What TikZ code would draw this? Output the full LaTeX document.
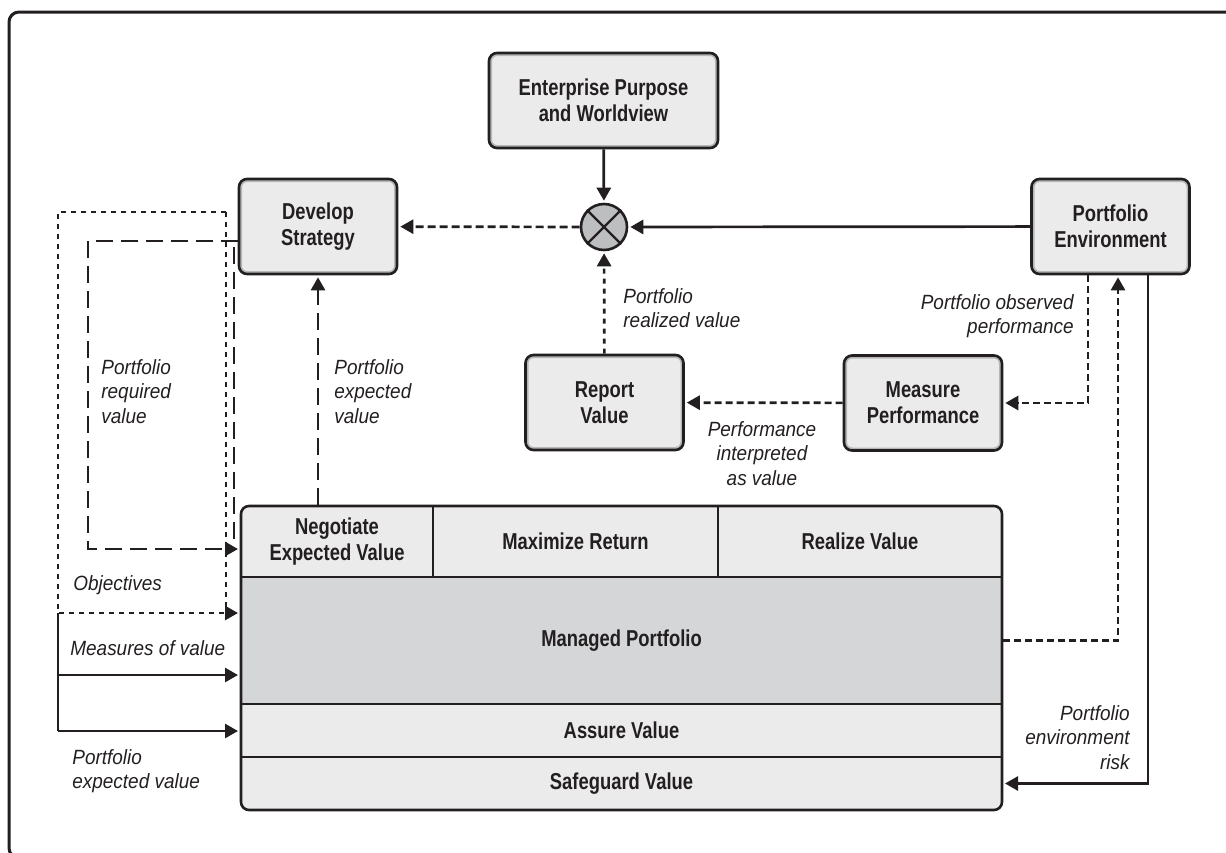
\documentclass[tikz,border=0pt]{standalone}
\usepackage{fontspec}
\setmainfont{Liberation Sans}
\newfontfamily\boxfamily[FakeStretch=0.8]{Liberation Sans}
\newfontfamily\notefamily[FakeStretch=0.92]{Liberation Sans}
\usetikzlibrary{arrows.meta}
\definecolor{inkblack}{HTML}{231F20}
\definecolor{boxfill}{HTML}{EBEBEC}
\definecolor{boxrim}{HTML}{B5B6B8}
\definecolor{coregray}{HTML}{D5D6D8}
\definecolor{joingray}{HTML}{BDBEC0}
\newcommand{\boxtext}{\boxfamily\bfseries\fontsize{11.5pt}{13pt}\selectfont}
\newcommand{\notetext}{\notefamily\itshape\fontsize{10.3pt}{12.2pt}\selectfont}
\tikzset{
  procbox/.style={rectangle, rounded corners=4pt, draw=inkblack, line width=1.3pt,
    fill=boxfill, minimum width=79pt, minimum height=47.5pt, inner sep=0pt,
    align=center, font=\boxtext, text=inkblack,
    path picture={\draw[boxrim, line width=3pt, rounded corners=4pt]
      (path picture bounding box.south west) rectangle (path picture bounding box.north east);}},
  joint/.style={circle, draw=inkblack, line width=1.3pt, fill=joingray, minimum size=23pt, inner sep=0pt},
  cell/.style={rectangle, draw=inkblack, line width=1pt, fill=boxfill, inner sep=0pt,
    align=center, font=\boxtext, text=inkblack},
  note/.style={inner sep=0pt, font=\notetext, text=inkblack},
  flow/.style={draw=inkblack, line width=1.35pt, -{Triangle[length=6.5pt,width=7pt]}, shorten >=1pt},
  wire/.style={draw=inkblack, line width=1.35pt},
  dotdash/.style={dash pattern=on 2.5pt off 2.5pt},
  shortdash/.style={dash pattern=on 3.5pt off 2pt},
  meddash/.style={dash pattern=on 4pt off 2pt},
  longdash/.style={dash pattern=on 8.5pt off 4pt}
}
\begin{document}
\begin{tikzpicture}[x=0.5pt,y=-0.5pt]
\useasboundingbox (0,0) rectangle (1226,852);
\clip (0,0) rectangle (1226,852);
\draw[inkblack, line width=1.5pt, rounded corners=5pt] (9,12) rectangle (1260,858);

\node[procbox, minimum width=114.5pt] (purpose) at (603.5,100.5) {Enterprise Purpose\\and Worldview};
\node[joint] (mix) at (604,227) {};
\draw[inkblack, line width=1.1pt] (mix.45) -- (mix.225) (mix.135) -- (mix.315);
\node[procbox] (strategy) at (318,226.5) {Develop\\Strategy};
\node[procbox] (environ) at (1110.5,226.5) {Portfolio\\Environment};
\node[procbox] (measure) at (923,403) {Measure\\Performance};
\node[procbox] (report) at (604.5,402.5) {Report\\Value};

% managed portfolio block
\begin{scope}
\clip[rounded corners=4pt] (241,506) rectangle (1002,810);
\node[cell, minimum width=96pt, minimum height=35.5pt] (negotiate) at (337,541.5) {Negotiate\\Expected Value};
\node[cell, minimum width=142.5pt, minimum height=35.5pt] (maxreturn) at (575.5,541.5) {Maximize Return};
\node[cell, minimum width=142pt, minimum height=35.5pt] (realize) at (860,541.5) {Realize Value};
\node[cell, fill=coregray, minimum width=380.5pt, minimum height=63.5pt] (managed) at (621.5,640.5) {Managed Portfolio};
\node[cell, minimum width=380.5pt, minimum height=26.5pt] (assure) at (621.5,730.5) {Assure Value};
\node[cell, minimum width=380.5pt, minimum height=26.5pt] (safeguard) at (621.5,783.5) {Safeguard Value};
\end{scope}
\draw[inkblack, line width=1.3pt, rounded corners=4pt] (241,506) rectangle (1002,810);

\draw[flow] (purpose) -- (mix);
\draw[flow] (environ) -- (mix);
\draw[flow, meddash] (mix) -- (strategy);
\draw[flow, dotdash] (report) -- (mix);
\draw[flow, shortdash] (measure) -- (report);
\draw[flow, shortdash] ([xshift=-11.25pt]environ.south) |- (measure.east);
\draw[flow, shortdash] (managed.east) -| ([xshift=3.75pt]environ.south);
\draw[flow] ([xshift=18.75pt]environ.south) |- (safeguard.east);
\draw[flow, longdash] (strategy.south |- negotiate.north) -- (strategy.south);

\coordinate (reqturn) at (88,549);
\coordinate (reqside) at (234,247);
\draw[flow, longdash] ([yshift=-7.25pt]strategy.west) -| (reqturn) -- (reqturn -| negotiate.west);
\draw[wire, longdash] (reqside) -- (reqside |- reqturn);

\coordinate (objleft) at (58,212);
\coordinate (objright) at (226,212);
\coordinate (objturn) at (58,613);
\draw[flow, dotdash] (objright) -- (objleft) -- (objturn) -- (objturn -| managed.west);
\draw[wire, dotdash] (objright) -- (objright |- objturn);

\coordinate (valmid) at (58,675);
\coordinate (valturn) at (58,731);
\draw[wire] (objturn) -- (valturn);
\draw[flow] (valmid) -- (valmid -| managed.west);
\draw[flow] (valturn) -- (valturn -| assure.west);

\node[note, anchor=north west, align=left] (reqnote) at (101,359) {Portfolio\\required\\value};
\node[note, anchor=north west, align=left] (expnote) at (334,359) {Portfolio\\expected\\value};
\node[note, anchor=north west, align=left] (realnote) at (623,288) {Portfolio\\realized value};
\node[note, anchor=north east, align=right] (obsnote) at (1074,294) {Portfolio observed\\performance};
\node[note, anchor=north, align=center] (intnote) at (762,421) {Performance\\interpreted\\as value};
\node[note, anchor=north east, align=right] (risknote) at (1130,705) {Portfolio\\environment\\risk};
\node[note, anchor=north west] (objnote) at (73,575) {Objectives};
\node[note, anchor=north west] (measnote) at (70,640) {Measures of value};
\node[note, anchor=north west, align=left] (expnote2) at (72,749) {Portfolio\\expected value};
\end{tikzpicture}
\end{document}
